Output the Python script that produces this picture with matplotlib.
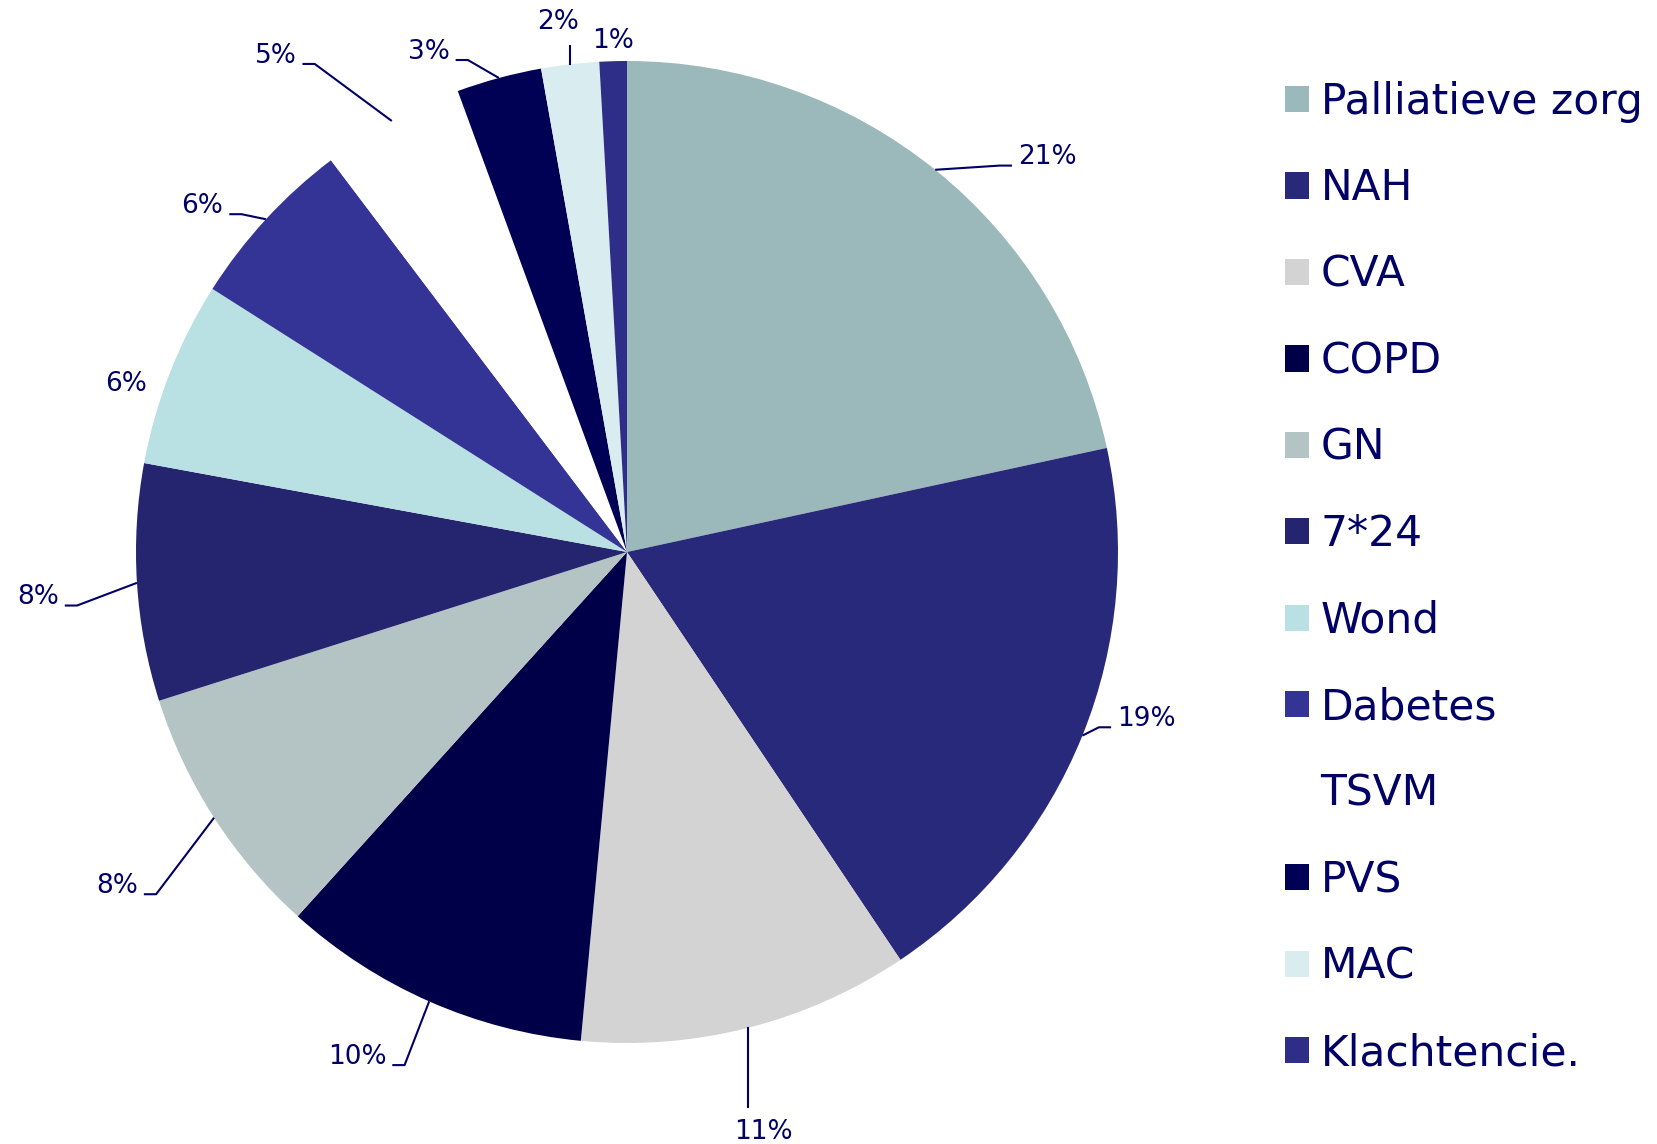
import matplotlib.pyplot as plt
import numpy as np

# data (percent of total)
categories = ['Palliatieve zorg', 'NAH', 'CVA', 'COPD', 'GN', '7*24', 'Wond',
              'Dabetes', 'TSVM', 'PVS', 'MAC', 'Klachtencie.']
shares = [21.6, 19.0, 10.9, 10.2, 8.4, 7.8, 6.1, 5.7, 4.7, 2.8, 1.9, 0.9]
pct_labels = ['21%', '19%', '11%', '10%', '8%', '8%', '6%', '6%', '5%', '3%', '2%', '1%']
colors = ['#9BB9BA', '#29297B', '#D3D3D3', '#000048', '#B4C4C4', '#25246E',
          '#B9E0E3', '#343496', '#FFFFFF', '#000055', '#D9EDF0', '#2E2E88']

# label placement (pie radius units) and leader style
lab_x = [0.796, 0.998, 0.277, -0.490, -0.996, -1.157, -0.978, -0.822, -0.673, -0.361, -0.140, -0.028]
lab_y = [0.804, -0.340, -1.181, -1.028, -0.680, -0.092, 0.342, 0.705, 1.011, 1.019, 1.080, 1.041]
lab_ha = ['left', 'left', 'center', 'right', 'right', 'right', 'right', 'right',
          'right', 'right', 'center', 'center']
leader = ['h', 'h', 'v', 'h', 'h', 'h', None, 'h', 'h', 'h', 'v', None]

navy = '#000066'
W, H = 1657, 1144
cx, cy, R = 627, 552, 491

fig = plt.figure(figsize=(W / 100, H / 100), dpi=100)
ax = fig.add_axes([0, 0, 1, 1])
wedges, _ = ax.pie(shares, colors=colors, startangle=90, counterclock=False,
                   radius=1, wedgeprops=dict(linewidth=0))
ax.set_xlim(-cx / R, (W - cx) / R)
ax.set_ylim(-(H - cy) / R, cy / R)
ax.axis('off')

# percentage labels with leader lines
cum = np.cumsum([0] + shares)
for i in range(len(shares)):
    mid = (cum[i] + cum[i + 1]) / 2 / 100 * 2 * np.pi
    ex, ey = np.sin(mid), np.cos(mid)
    tx, ty = lab_x[i], lab_y[i]
    ax.text(tx, ty, pct_labels[i], ha=lab_ha[i], va='center', fontsize=19, color=navy)
    if leader[i] == 'h':
        side = 1 if lab_ha[i] == 'left' else -1
        endx = tx - side * 0.012
        ly = ty - 0.017
        elbx = endx - side * 0.025
        ax.plot([ex, elbx, endx], [ey, ly, ly], color=navy, lw=1.5, solid_capstyle='butt')
    elif leader[i] == 'v':
        endy = ty + 0.05 if ty < 0 else ty - 0.05
        ax.plot([ex, ex], [ey, endy], color=navy, lw=1.5)

leg = ax.legend(wedges, categories, loc='upper left',
                bbox_to_anchor=(1285 / W, 1 - 81 / H), bbox_transform=fig.transFigure,
                frameon=False, fontsize=30.5, handlelength=0.57, handleheight=0.57,
                handletextpad=0.27, labelspacing=1.05, borderpad=0, borderaxespad=0)
for t in leg.get_texts():
    t.set_color(navy)

fig.savefig('out.png', dpi=100)
